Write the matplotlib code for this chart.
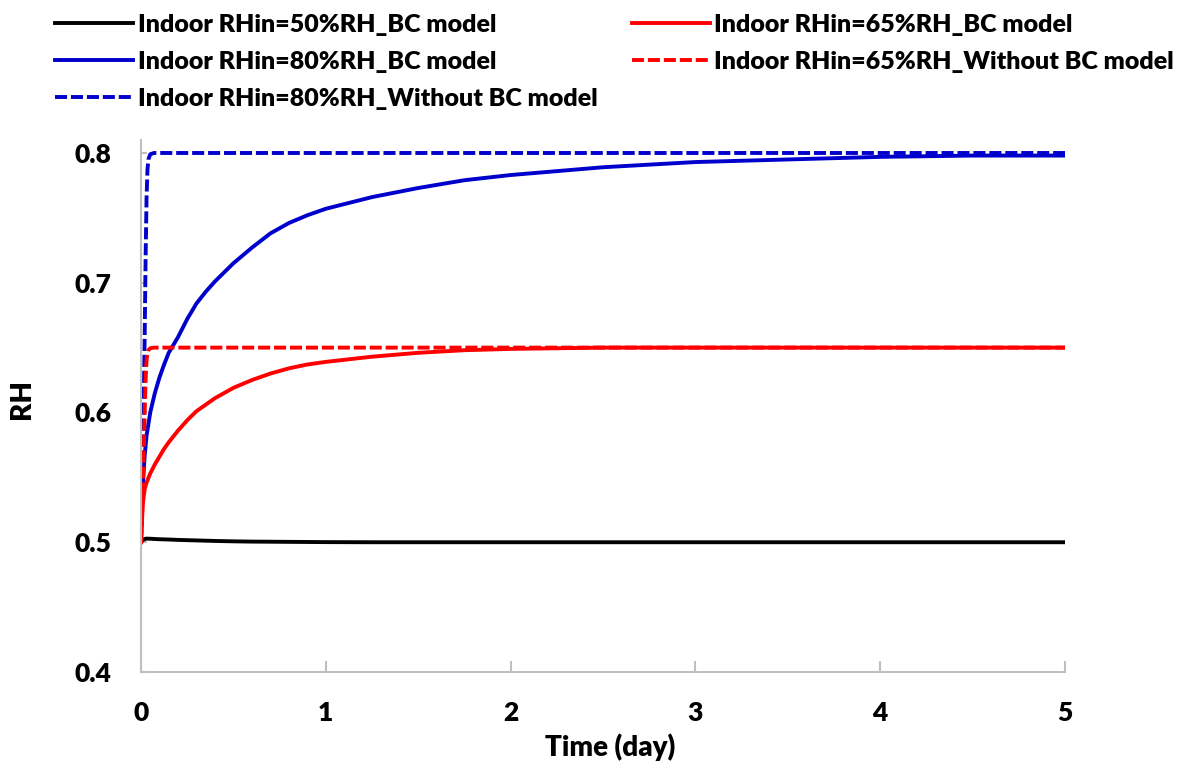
import matplotlib
matplotlib.use("Agg")
import matplotlib.pyplot as plt

plt.rcParams['font.family'] = ['Lato', 'DejaVu Sans']
plt.rcParams['font.weight'] = 'heavy'

# ---- data (time in days, RH as fraction) ----
t_bc = [0, 0.01, 0.02, 0.03, 0.05, 0.075, 0.1, 0.125, 0.15, 0.2, 0.25, 0.3,
        0.35, 0.4, 0.5, 0.6, 0.7, 0.8, 0.9, 1.0, 1.25, 1.5, 1.75, 2.0, 2.25,
        2.5, 3.0, 3.5, 4.0, 4.5, 5.0]
rh50_bc = [0.5, 0.5015, 0.5025, 0.5028, 0.5027, 0.5025, 0.5023, 0.5022, 0.5021,
           0.5018, 0.5016, 0.5014, 0.5012, 0.5010, 0.5007, 0.5005, 0.5004,
           0.5003, 0.5002, 0.5001, 0.5, 0.5, 0.5, 0.5, 0.5, 0.5, 0.5, 0.5,
           0.5, 0.5, 0.5]
rh80_bc = [0.5, 0.545, 0.567, 0.582, 0.600, 0.615, 0.627, 0.637, 0.646, 0.658,
           0.672, 0.684, 0.693, 0.701, 0.715, 0.727, 0.738, 0.746, 0.752,
           0.757, 0.766, 0.773, 0.779, 0.783, 0.786, 0.789, 0.793, 0.795,
           0.797, 0.798, 0.798]
rh65_bc = [0.5, 0.53, 0.541, 0.546, 0.553, 0.56, 0.566, 0.572, 0.577, 0.586,
           0.594, 0.601, 0.606, 0.611, 0.619, 0.625, 0.630, 0.634, 0.637,
           0.639, 0.643, 0.646, 0.648, 0.649, 0.6495, 0.650, 0.650, 0.650,
           0.650, 0.650, 0.650]

t_nobc = [0, 0.01, 0.02, 0.025, 0.03, 0.035, 0.04, 0.05, 0.07, 0.1, 0.5, 1.0,
          2.0, 3.0, 4.0, 5.0]
rh80_nobc = [0.5, 0.56, 0.66, 0.72, 0.765, 0.787, 0.795, 0.799, 0.8, 0.8, 0.8,
             0.8, 0.8, 0.8, 0.8, 0.8]
rh65_nobc = [0.5, 0.54, 0.60, 0.625, 0.640, 0.646, 0.648, 0.6495, 0.65, 0.65,
             0.65, 0.65, 0.65, 0.65, 0.65, 0.65]

labels = ["Indoor RHin=50%RH_BC model",
          "Indoor RHin=80%RH_BC model",
          "Indoor RHin=80%RH_Without BC model",
          "Indoor RHin=65%RH_BC model",
          "Indoor RHin=65%RH_Without BC model"]

xticks = [0, 1, 2, 3, 4, 5]
yticks = [0.4, 0.5, 0.6, 0.7, 0.8]

BLUE = "#0000CC"
RED = "#FF0000"
LW = 2.8
DASH = (3.1, 1.0)

W, H = 1183, 762
fig = plt.figure(figsize=(W / 100, H / 100), dpi=100)
ax = fig.add_axes([141 / W, 90 / H, 924 / W, 532 / H])

l50, = ax.plot(t_bc, rh50_bc, color="black", lw=LW, label=labels[0])
l80, = ax.plot(t_bc, rh80_bc, color=BLUE, lw=LW, label=labels[1])
l80n, = ax.plot(t_nobc, rh80_nobc, color=BLUE, lw=LW, ls=(0, DASH), label=labels[2])
l65, = ax.plot(t_bc, rh65_bc, color=RED, lw=LW, label=labels[3])
l65n, = ax.plot(t_nobc, rh65_nobc, color=RED, lw=LW, ls=(0, DASH), label=labels[4])

ax.set_xlim(0, 5)
ax.set_ylim(0.4, 0.81)
ax.set_xticks(xticks)
ax.set_xticklabels([str(x) for x in xticks])
ax.set_yticks(yticks)
ax.set_yticklabels([f"{y:.1f}" for y in yticks])

for s in ['top', 'right']:
    ax.spines[s].set_visible(False)
for s in ['left', 'bottom']:
    ax.spines[s].set_color('#BFBFBF')
    ax.spines[s].set_linewidth(1.5)
ax.tick_params(axis='x', direction='in', length=8, width=1.5, color='#BFBFBF',
               labelsize=19, pad=21)
ax.tick_params(axis='y', direction='in', length=4, width=1.5, color='#BFBFBF',
               labelsize=19, pad=21)
for lab in ax.get_xticklabels() + ax.get_yticklabels():
    lab.set_fontweight('heavy')

ax.set_xlabel("Time (day)", fontsize=20, fontweight='heavy', va='center')
ax.xaxis.set_label_coords(0.508, (672 - 747) / 532)
ax.set_ylabel("RH", fontsize=20, fontweight='heavy', va='center')
ax.yaxis.set_label_coords((22 - 141) / 924, (672 - 399) / 532)

common = dict(frameon=False, fontsize=18, handlelength=3.1, handletextpad=0.2,
              labelspacing=0.6, borderpad=0, borderaxespad=0, loc='upper left')
fig.legend(handles=[l50, l80, l80n], labels=labels[:3],
           bbox_to_anchor=(55 / W, 1 - 14 / H), **common)
fig.legend(handles=[l65, l65n], labels=labels[3:],
           bbox_to_anchor=(632 / W, 1 - 14 / H), **common)

fig.savefig("out.png", dpi=100)
